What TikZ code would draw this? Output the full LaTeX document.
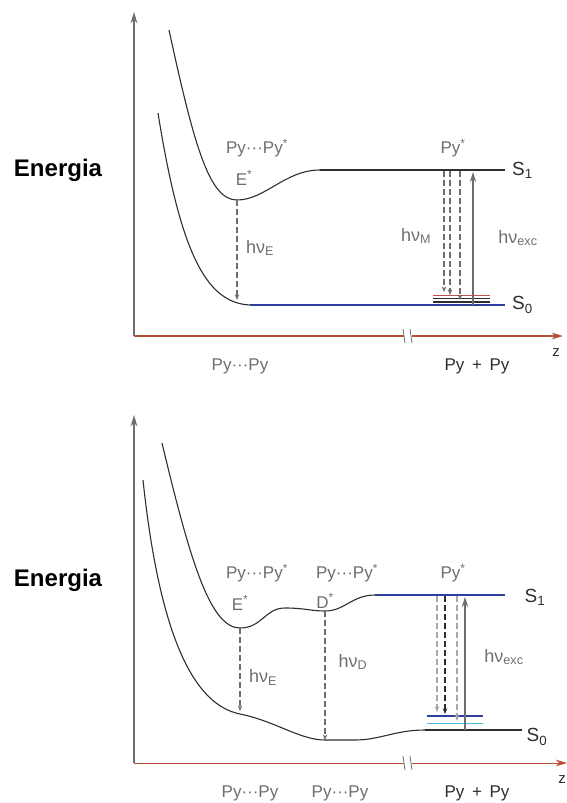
\documentclass[tikz,border=0pt]{standalone}
\usepackage{fontspec}
\setmainfont{Liberation Sans}
\usetikzlibrary{arrows.meta,calc,positioning}
\definecolor{DiagInk}{HTML}{2E2E2E}
\definecolor{DiagMuted}{HTML}{6E6E6E}
\definecolor{DiagAxis}{HTML}{B5503A}
\definecolor{DiagRed}{HTML}{C0504D}
\definecolor{DiagBlue}{HTML}{2F3FA0}
\definecolor{DiagCyan}{HTML}{4FB8E0}
\tikzset{
  every node/.style={font=\fontsize{18}{21}\selectfont, text=DiagMuted, inner sep=1pt},
  axis/.style={draw=DiagMuted, line width=1.6pt, -{Stealth[length=4mm,width=2.4mm]}},
  zaxis/.style={draw=DiagAxis, line width=1.6pt, -{Stealth[length=4mm,width=2.4mm]}},
  potential/.style={draw=DiagInk, line width=1.1pt},
  level/.style={draw=DiagInk, line width=1.6pt},
  emission/.style={draw=DiagMuted, line width=1.1pt, dash pattern=on 6pt off 3pt, -{Stealth[length=2mm,width=1.6mm]}},
  excitation/.style={draw=DiagMuted, line width=1.6pt, -{Stealth[length=3.5mm,width=2.2mm]}},
  title/.style={font=\fontsize{24}{28}\selectfont\bfseries, text=black},
  state/.style={font=\fontsize{19}{22}\selectfont, text=DiagInk},
  species/.style={font=\fontsize{17}{20}\selectfont, text=DiagMuted},
}
\begin{document}
\begin{tikzpicture}[x=1pt,y=-1pt]
  \useasboundingbox (0,0) rectangle (567,803);

  % ---------------- upper diagram: monomer / excimer ----------------
  \coordinate (aO) at (134,336);
  \coordinate (aY) at (134,12);
  \coordinate (aZ) at (563,336);
  \draw[axis] (aO) -- (aY);
  \draw[zaxis] (aO) -- (aZ);
  \fill[white] (404,328) rectangle (412,344);
  \draw[DiagMuted, line width=0.8pt] (403,329) -- (405,343) (410,329) -- (412,343);
  \node[text=DiagInk, font=\fontsize{15}{18}\selectfont] (aZl) at (556,353) {z};
  \node[title] (aEn) at (58,170) {Energia};

  % potential curves
  \draw[potential] (169,30) .. controls (195,150) and (210,200) .. (237,200)
    .. controls (265,200) and (285,170) .. (320,170);
  \coordinate (aS1a) at (320,170);
  \coordinate (aS1b) at (505,170);
  \draw[level] (aS1a) -- (aS1b);
  \draw[potential] (158,113) .. controls (180,250) and (205,303) .. (250,305);
  \coordinate (aS0a) at (250,305);
  \coordinate (aS0b) at (505,305);
  \draw[draw=DiagBlue, line width=1.1pt] (aS0a) -- (aS0b);
  \node[state, right=6pt of aS1b] (aS1) {S\textsubscript{1}};
  \node[state, right=6pt of aS0b] (aS0) {S\textsubscript{0}};

  % vibrational levels of S0
  \draw[DiagRed, line width=0.8pt] (433,295) -- (490,295);
  \draw[DiagInk, line width=1.4pt] (433,298.5) -- (490,298.5);
  \draw[DiagInk, line width=1.4pt] (433,302) -- (490,302);

  % transitions
  \coordinate (aEt) at (237,200);
  \coordinate (aEb) at (237,300);
  \draw[emission] (aEt) -- (aEb);
  \node[right=8pt of $(aEt)!0.48!(aEb)$] (aHE) {hν\textsubscript{E}};
  \foreach \x/\y in {444/292, 450/295, 460/300} {
    \coordinate (aMt\x) at (\x,171);
    \coordinate (aMb\x) at (\x,\y);
    \draw[emission] (aMt\x) -- (aMb\x);
  }
  \node (aHM) at (416,236) {hν\textsubscript{M}};
  \coordinate (aXb) at (473,305);
  \coordinate (aXt) at (473,172);
  \draw[excitation] (aXb) -- (aXt);
  \node (aHX) at (518,238) {hν\textsubscript{exc}};

  % species
  \node[species] (aPP1) at (257,148) {Py···Py\textsuperscript{*}};
  \node[species] (aE) at (244,178) {E\textsuperscript{*}};
  \node[species] (aP1) at (453,148) {Py\textsuperscript{*}};
  \node[species] (aPP0) at (240,366) {Py···Py};
  \node[species, text=DiagInk] (aP0) at (477,366) {Py \,+\, Py};

  % ---------------- lower diagram: with second excimer ----------------
  \coordinate (bO) at (134,763);
  \coordinate (bY) at (134,415);
  \coordinate (bZ) at (567,763);
  \draw[axis] (bO) -- (bY);
  \draw[draw=DiagAxis, line width=1pt, -{Stealth[length=4mm,width=2.4mm]}] (bO) -- (bZ);
  \fill[white] (404,755) rectangle (412,771);
  \draw[DiagMuted, line width=0.8pt] (403,756) -- (405,770) (410,756) -- (412,770);
  \node[text=DiagInk, font=\fontsize{15}{18}\selectfont] (bZl) at (562,780) {z};
  \node[title] (bEn) at (58,580) {Energia};

  % potential curves
  \draw[potential] (162,443) .. controls (190,560) and (210,628) .. (240,628)
    .. controls (262,628) and (265,608) .. (285,608)
    .. controls (305,608) and (310,611) .. (325,611)
    .. controls (345,611) and (352,595) .. (375,595);
  \coordinate (bS1a) at (375,595);
  \coordinate (bS1b) at (505,595);
  \draw[draw=DiagBlue, line width=1.6pt] (bS1a) -- (bS1b);
  \draw[potential] (143,480) .. controls (160,640) and (195,705) .. (240,714)
    .. controls (275,721) and (300,740) .. (325,740) -- (355,740)
    .. controls (380,740) and (395,730) .. (425,730);
  \coordinate (bS0a) at (425,730);
  \coordinate (bS0b) at (522,730);
  \draw[potential] (bS0a) -- (bS0b);
  \node[state] (bS1) at (535,597) {S\textsubscript{1}};
  \node[state] (bS0) at (537,737) {S\textsubscript{0}};

  % vibrational levels of S0
  \draw[DiagBlue, line width=1.6pt] (427,716) -- (483,716);
  \draw[DiagCyan, line width=1pt] (427,723) -- (483,723);

  % transitions
  \coordinate (bEt) at (240,628);
  \coordinate (bEb) at (240,711);
  \draw[emission, line width=1.4pt] (bEt) -- (bEb);
  \node[right=8pt of $(bEt)!0.6!(bEb)$] (bHE) {hν\textsubscript{E}};
  \coordinate (bDt) at (325,611);
  \coordinate (bDb) at (325,740);
  \draw[emission, line width=1.4pt] (bDt) -- (bDb);
  \node (bHD) at (353,662) {hν\textsubscript{D}};
  \foreach \x/\y/\c in {437/712/DiagMuted!60, 445/714/DiagInk, 457/721/DiagMuted!60} {
    \coordinate (bMt\x) at (\x,596);
    \coordinate (bMb\x) at (\x,\y);
    \draw[emission, draw=\c, line width=1.6pt] (bMt\x) -- (bMb\x);
  }
  \coordinate (bXb) at (465,730);
  \coordinate (bXt) at (465,597);
  \draw[excitation] (bXb) -- (bXt);
  \node (bHX) at (504,657) {hν\textsubscript{exc}};

  % species
  \node[species] (bPP1) at (257,573) {Py···Py\textsuperscript{*}};
  \node[species] (bPP2) at (347,573) {Py···Py\textsuperscript{*}};
  \node[species] (bE) at (240,603) {E\textsuperscript{*}};
  \node[species] (bD) at (325,601) {D\textsuperscript{*}};
  \node[species] (bP1) at (453,573) {Py\textsuperscript{*}};
  \node[species] (bPP3) at (250,793) {Py···Py};
  \node[species] (bPP4) at (340,793) {Py···Py};
  \node[species, text=DiagInk] (bP0) at (477,793) {Py \,+\, Py};
\end{tikzpicture}
\end{document}
